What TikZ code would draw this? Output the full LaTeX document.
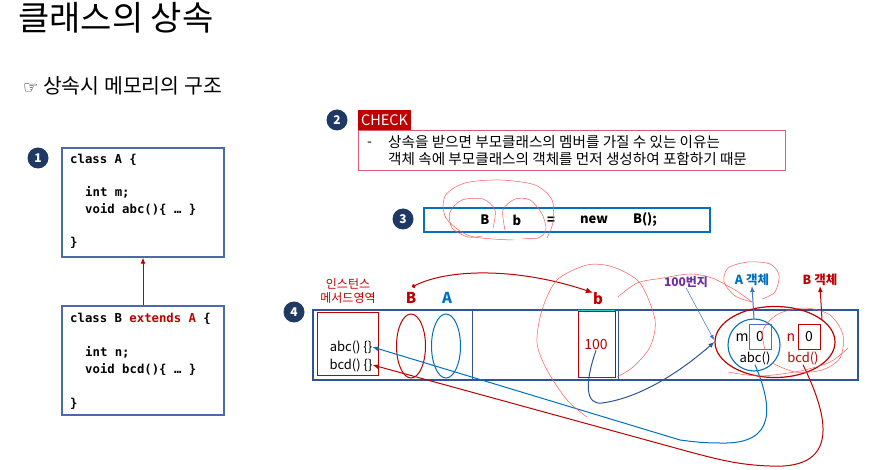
\documentclass[tikz,border=0pt]{standalone}
\usepackage{fontspec}
\setmainfont{Noto Sans CJK KR}
\newfontfamily\codefont{DejaVu Sans Mono}
\newfontfamily\symfont{DejaVu Sans}
\usetikzlibrary{arrows.meta,shapes.geometric}
\definecolor{navy}{HTML}{1F3864}
\definecolor{boxblue}{HTML}{4A6AA8}
\definecolor{memblue}{HTML}{2F5597}
\definecolor{dred}{HTML}{C00000}
\definecolor{chkred}{HTML}{E05A6E}
\definecolor{lblue}{HTML}{0070C0}
\definecolor{ablue}{HTML}{4472C4}
\definecolor{purp}{HTML}{7030A0}
\definecolor{pen}{HTML}{FF5A5A}
\definecolor{cyanl}{HTML}{33CCCC}
\tikzset{
  numc/.style={circle,fill=navy,text=white,font=\bfseries\fontsize{12}{12}\selectfont,inner sep=0pt,minimum size=21pt},
  codebox/.style={draw=boxblue,line width=1.3pt,inner sep=0pt},
  code/.style={anchor=base west,inner sep=0pt,font=\codefont\bfseries\fontsize{12.3}{12.3}\selectfont},
  memtxt/.style={inner sep=0pt,font=\fontsize{13}{13}\selectfont},
  lbl/.style={inner sep=0pt,font=\bfseries\fontsize{15}{15}\selectfont},
  stmtxt/.style={inner sep=0pt,font=\bfseries\fontsize{13}{13}\selectfont},
  penline/.style={pen,line width=0.5pt},
  tip/.style={-{Latex[length=6pt,width=5pt]}}
}
\begin{document}
\begin{tikzpicture}[x=1pt,y=-1pt]
\useasboundingbox (0,0) rectangle (870,470);
\fill[white] (0,0) rectangle (870,470);
% titles
\node[anchor=base west,inner sep=0pt,font=\fontsize{34}{34}\selectfont] (title) at (18,31) {클래스의 상속};
\node[anchor=base west,inner sep=0pt,font=\fontsize{20.5}{20.5}\selectfont] (sub) at (23,94) {{\symfont\fontsize{17}{17}\selectfont ☞} 상속시 메모리의 구조};
% 1: class boxes
\node[numc] (n1) at (38,158) {1};
\node[codebox,minimum width=162pt,minimum height=109pt] (A) at (143,202.5) {};
\node[code] (a1) at (70,164) {class A \{};
\node[code] (a2) at (85,197) {int m;};
\node[code] (a3) at (85,214) {void abc()\{ … \}};
\node[code] (a4) at (70,247) {\}};
\node[codebox,minimum width=162pt,minimum height=109pt] (B) at (143,360.5) {};
\node[code] (b1) at (70,323) {class B \textcolor{dred}{extends A} \{};
\node[code] (b2) at (85,356) {int n;};
\node[code] (b3) at (85,373) {void bcd()\{ … \}};
\node[code] (b4) at (70,407) {\}};
\draw[dred,line width=1pt,-{Latex[length=6pt,width=5pt]}] (B.north) -- (A.south);
% 2: check
\node[numc] (n2) at (337,120) {2};
\node[fill=dred,text=white,inner sep=0pt,minimum width=53pt,minimum height=20pt,font=\fontsize{14.5}{14.5}\selectfont] (chk) at (384.5,120) {CHECK};
\node[draw=chkred,line width=0.9pt,minimum width=427pt,minimum height=40pt,inner sep=0pt] (chkbox) at (571.5,150) {};
\node[anchor=base west,inner sep=0pt,font=\fontsize{14}{14}\selectfont] (dash) at (367,147) {-};
\node[anchor=base west,inner sep=0pt,font=\fontsize{14.6}{14.6}\selectfont] (c1) at (388,147.5) {상속을 받으면 부모클래스의 멤버를 가질 수 있는 이유는};
\node[anchor=base west,inner sep=0pt,font=\fontsize{14.6}{14.6}\selectfont] (c2) at (388,164.5) {객체 속에 부모클래스의 객체를 먼저 생성하여 포함하기 때문};
% 3: statement
\node[numc] (n3) at (403,219) {3};
\node[draw=lblue,line width=1.2pt,minimum width=286pt,minimum height=24pt,inner sep=0pt] (stm) at (567,220) {};
\node[stmtxt] (sB) at (485,220) {B};
\node[stmtxt] (sb) at (517,220) {b};
\node[stmtxt] (seq) at (551,221) {=};
\node[stmtxt] (snew) at (594,220) {new};
\node[stmtxt] (sB2) at (645,220) {B();};
% 4: memory
\node[numc] (n4) at (294,312) {4};
\node[draw=memblue,line width=1.2pt,minimum width=545pt,minimum height=70pt,inner sep=0pt] (mem) at (585.5,345) {};
\coordinate (d1t) at (472,310); \coordinate (d1b) at (472,380);
\coordinate (d2t) at (618,310); \coordinate (d2b) at (618,380);
\draw[memblue,line width=1pt] (d1t) -- (d1b);
\draw[memblue,line width=1pt] (d2t) -- (d2b);
\node[text=dred,align=center,inner sep=0pt,font=\fontsize{12}{14.5}\selectfont] (mlab) at (348,291) {인스턴스\\메서드영역};
\node[draw=dred,line width=1pt,minimum width=61pt,minimum height=62pt,inner sep=0pt] (marea) at (347.5,344) {};
\node[memtxt] (mabc) at (351,347) {abc() \{\}};
\node[memtxt] (mbcd) at (351,365) {bcd() \{\}};
\node[lbl,text=dred] (lB) at (411,298) {B};
\node[lbl,text=lblue] (lA) at (447,298) {A};
\node[ellipse,draw=dred,line width=1pt,minimum width=29pt,minimum height=64pt,inner sep=0pt] (eB) at (411,346) {};
\node[ellipse,draw=lblue,line width=1pt,minimum width=29pt,minimum height=64pt,inner sep=0pt] (eA) at (446,346) {};
\node[lbl,text=dred] (lb) at (598,299) {b};
\draw[cyanl,line width=1pt] (578,311) -- (615,311);
\node[draw=dred,line width=1pt,minimum width=37pt,minimum height=65pt,inner sep=0pt] (var) at (596.5,344.5) {};
\node[memtxt,text=dred,font=\fontsize{14}{14}\selectfont] (v100) at (596,345) {100};
\node[inner sep=0pt,text=purp,font=\bfseries\fontsize{12}{12}\selectfont] (addr) at (686,282) {100번지};
\node[inner sep=0pt,text=lblue,font=\bfseries\fontsize{12.5}{12.5}\selectfont] (lAo) at (752,280) {A 객체};
\node[inner sep=0pt,text=dred,font=\bfseries\fontsize{12.5}{12.5}\selectfont] (lBo) at (820,280) {B 객체};
\node[ellipse,draw=dred,line width=1.2pt,minimum width=120pt,minimum height=71pt,inner sep=0pt] (oB) at (775,342) {};
\node[circle,draw=lblue,line width=1.1pt,minimum size=52pt,inner sep=0pt] (oA) at (754,345) {};
\node[memtxt,font=\fontsize{14}{14}\selectfont] (tm) at (742,338) {m};
\node[draw=ablue,line width=1pt,minimum width=22pt,minimum height=25pt,inner sep=0pt,memtxt,font=\fontsize{14}{14}\selectfont] (bm) at (760,336.5) {0};
\node[memtxt] (tabc) at (755,358) {abc()};
\node[memtxt,text=dred,font=\fontsize{14}{14}\selectfont] (tn) at (791,338) {n};
\node[draw=dred,line width=1pt,minimum width=22pt,minimum height=25pt,inner sep=0pt,memtxt,font=\fontsize{14}{14}\selectfont] (bn) at (809,336.5) {0};
\node[memtxt,text=dred] (tbcd) at (803,358) {bcd()};
% connectors
\coordinate (dotB) at (412,287);
\draw[dred,line width=1pt,{Circle[length=4pt]}-{Latex[length=7pt,width=6pt]}] (dotB) .. controls (450,268) and (520,268) .. (lb.north west);
\draw[ablue,line width=0.5pt,-{Latex[length=5pt,width=4pt]}] (addr.south) -- (714,340);
\draw[ablue,line width=1pt,tip] (oA.north) -- (lAo.south);
\coordinate (bArrS) at (822,320);
\draw[dred,line width=1pt,tip] (bArrS) -- (lBo.south);
\draw[memblue,line width=1pt,tip] (v100.south) .. controls (584,385) and (586,405) .. (602,403) .. controls (640,398) and (680,372) .. (oB.west);
\draw[lblue,line width=1pt,tip] (tabc.south) .. controls (772,405) and (778,445) .. (720,443) .. controls (705,443) and (695,442) .. (680,440) -- (mabc.east);
\draw[dred,line width=1pt,tip] (tbcd.south) .. controls (825,410) and (845,470) .. (770,466) .. controls (740,465) and (720,460) .. (690,452) -- (mbcd.east);
% pen scribbles
\draw[penline] plot[smooth] coordinates {(513,240) (470,236) (446,218) (445,196) (465,183) (500,180) (535,185) (552,200) (553,222) (547,238)};
\draw[penline] plot[smooth] coordinates {(493,228) (495,210) (483,199) (462,200) (450,212) (452,228) (468,237) (482,236)};
\draw[penline] plot[smooth] coordinates {(505,230) (503,210) (515,199) (530,200) (542,214) (546,230) (538,238) (522,238)};
\draw[penline] plot[smooth] coordinates {(587,417) (567,400) (547,370) (537,343) (542,310) (557,280) (587,265) (613,267) (640,283) (655,320) (650,347) (633,367) (617,377)};
\draw[penline] plot[smooth] coordinates {(618,297) (637,283) (663,278) (690,274) (712,278) (735,290) (752,302)};
\draw[penline] plot[smooth] coordinates {(752,302) (735,296) (724,282) (728,268) (748,262) (770,264) (779,275) (775,292) (762,299)};
\draw[penline] plot[smooth] coordinates {(765,350) (763,330) (778,314) (805,308) (830,315) (843,335) (840,358) (822,370) (795,372) (772,363)};
\draw[penline] plot[smooth] coordinates {(728,372) (760,376) (800,371) (830,362) (848,348)};
\end{tikzpicture}
\end{document}
